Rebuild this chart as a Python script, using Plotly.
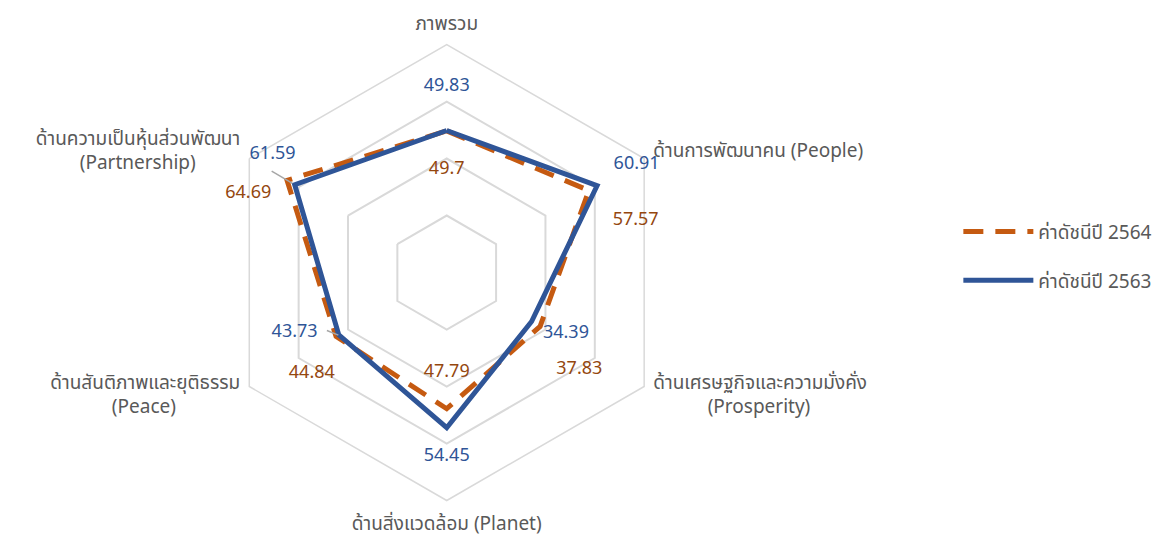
import plotly.graph_objects as go

NB = "\u00a0"

# Category order around the radar (clockwise from top)
categories = [
    "ภาพรวม",
    "ด้านการพัฒนาคน (People)",
    "ด้านเศรษฐกิจและความมั่งคั่ง<br>" + NB * 11 + "(Prosperity)" + ("<br>" + NB) * 2,
    "ด้านสิ่งแวดล้อม (Planet)",
    "ด้านสันติภาพและยุติธรรม<br>(Peace)" + NB * 13 + ("<br>" + NB) * 2,
    NB + "<br>ด้านความเป็นหุ้นส่วนพัฒนา<br>(Partnership)" + NB * 9,
]

series = {
    "ค่าดัชนีปี 2564": dict(
        values=[49.7, 57.57, 37.83, 47.79, 44.84, 64.69],
        line_color="#C55A11", label_color="#94470F", dash="20px,12px",
        # label offsets (dr, dtheta) from the data point
        offsets=[(-13.4, 0), (11.2, 14.6), (19.9, 6.3), (-12.6, 0), (14.2, -6.7), (10.3, -8.2)],
    ),
    "ค่าดัชนีปี 2563": dict(
        values=[49.83, 60.91, 34.39, 54.45, 43.73, 61.59],
        line_color="#2F5597", label_color="#2F5597", dash="solid",
        offsets=[(15.5, 0), (15.8, 0.3), (12.6, -2.9), (10.2, 0), (13.6, 8.6), (12.3, 4.2)],
    ),
}

FONT = "Noto Sans Thai, Noto Sans, sans-serif"
GRID = "#D9D9D9"

fig = go.Figure()

for name, s in series.items():
    vals = s["values"]
    fig.add_trace(go.Scatterpolar(
        r=vals + vals[:1],
        theta=categories + categories[:1],
        mode="lines",
        name=name,
        legendgroup=name,
        line=dict(color=s["line_color"], width=5, dash=s["dash"]),
        subplot="polar",
    ))

# data labels on an overlaid numeric polar
for name, s in series.items():
    vals = s["values"]
    fig.add_trace(go.Scatterpolar(
        r=[v + o[0] for v, o in zip(vals, s["offsets"])],
        theta=[k * 60 + o[1] for k, o in enumerate(s["offsets"])],
        mode="text",
        text=[f"{v:g}" for v in vals],
        textfont=dict(color=s["label_color"], size=18, family=FONT),
        showlegend=False,
        hoverinfo="skip",
        subplot="polar2",
    ))

# small leader lines
for r0, t0, r1, t1 in [(71.0, 300.1, 62.5, 300.0), (46.7, 244.2, 43.9, 240.0)]:
    fig.add_trace(go.Scatterpolar(
        r=[r0, r1], theta=[t0, t1], mode="lines",
        line=dict(color="#A6A6A6", width=1.5),
        showlegend=False, hoverinfo="skip", subplot="polar2",
    ))

dom = dict(x=[0.1795, 0.5679], y=[0.0828, 0.932])

fig.update_layout(
    width=1174, height=537,
    margin=dict(l=0, r=0, t=0, b=0),
    paper_bgcolor="white",
    font=dict(family=FONT, color="#595959", size=19),
    polar=dict(
        domain=dom,
        gridshape="linear",
        bgcolor="rgba(0,0,0,0)",
        radialaxis=dict(range=[0, 80], dtick=20, showline=False, ticks="",
                        showticklabels=False, gridcolor=GRID, gridwidth=1.5),
        angularaxis=dict(rotation=90, direction="clockwise", showgrid=False,
                         linecolor=GRID, linewidth=1.5,
                         ticks="outside", ticklen=6, tickcolor="rgba(0,0,0,0)",
                         tickfont=dict(size=19, color="#595959")),
    ),
    polar2=dict(
        domain=dom,
        bgcolor="rgba(0,0,0,0)",
        radialaxis=dict(range=[0, 80], visible=False),
        angularaxis=dict(rotation=90, direction="clockwise", visible=False),
    ),
    legend=dict(
        x=0.8095, y=0.538, xanchor="left", yanchor="middle",
        font=dict(size=19, color="#595959"),
        itemwidth=70, tracegroupgap=21,
    ),
)

fig.write_html("out.html")
